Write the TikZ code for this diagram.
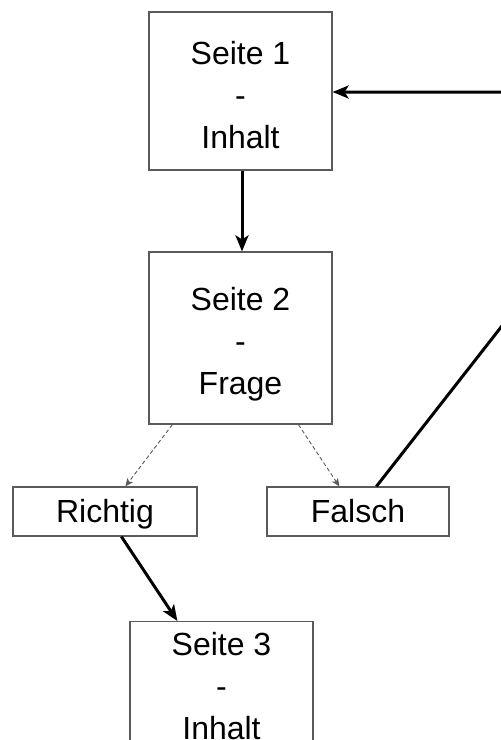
\documentclass[tikz,border=0pt]{standalone}
\usepackage{fontspec}
\setmainfont{Liberation Sans}
\usetikzlibrary{arrows.meta,calc}
\definecolor{boxline}{HTML}{5a5a5a}
\tikzset{
  pagebox/.style={draw=boxline, line width=1.2pt, minimum width=183pt, minimum height=158pt,
    inner sep=0pt},
  smallbox/.style={draw=boxline, line width=1.2pt, minimum height=49pt,
    inner sep=0pt, align=center, text height=23pt, text depth=1pt,
    font=\fontsize{32}{38}\selectfont},
  boxtext/.style={inner sep=0pt, align=center, font=\fontsize{32}{42}\selectfont},
  mainarrow/.style={line width=3pt, -{Stealth[length=16pt,width=13pt,inset=4pt]}},
  choicearrow/.style={line width=0.9pt, draw=boxline, dash pattern=on 4pt off 2.5pt,
    -{Stealth[length=8pt,width=7pt,inset=2pt]}}
}
\begin{document}
\begin{tikzpicture}[x=1pt,y=-1pt]
\clip (0,0) rectangle (501,740);
\node[pagebox, minimum height=158pt] (s1) at (240.5,91) {};
\node[boxtext] (s1t) at (240.5,95.5) {Seite 1\\-\\Inhalt};
\node[pagebox, minimum height=172pt] (s2) at (240.5,338) {};
\node[boxtext] (s2t) at (240.5,344) {Seite 2\\-\\Frage};
\node[smallbox, minimum width=184pt] (r) at (105,511.5) {Richtig};
\node[smallbox, minimum width=182pt] (f) at (358,511.5) {Falsch};
\node[pagebox, minimum height=172pt, anchor=north] (s3) at (221.5,621) {};
\node[boxtext] (s3t) at (221.5,686) {Seite 3\\-\\Inhalt};
\coordinate (corner) at (685,92);
\draw[mainarrow] (s1.south -| 242,0) -- (s2.north -| 242,0);
\draw[choicearrow] ($(s2.south west)+(24,0)$) -- ($(r.north west)+(113,0)$);
\draw[choicearrow] ($(s2.south west)+(150,0)$) -- ($(f.north west)+(73,0)$);
\draw[mainarrow] ($(f.north west)+(110,0)$) -- (corner) -- (corner -| s1.east);
\draw[mainarrow] ($(r.south west)+(109,0)$) -- ($(s3.north west)+(48,0)$);
\end{tikzpicture}
\end{document}
